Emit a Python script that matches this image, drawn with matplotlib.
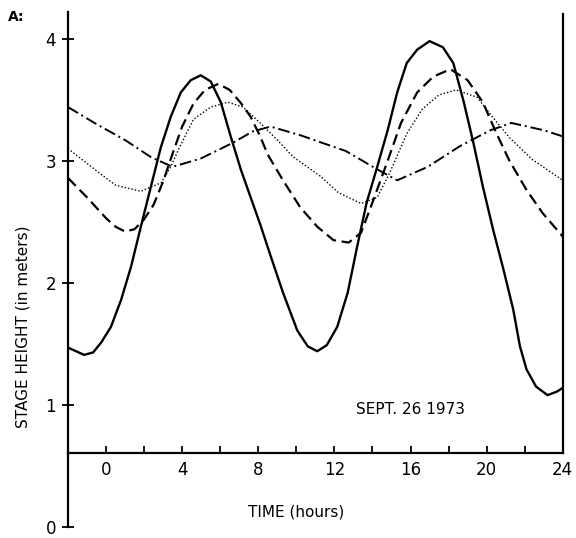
import numpy as np
import matplotlib.pyplot as plt

# odczyty z wykresu: (godzina, wysokosc w m)
t_ciagla = [-2, -1.15, -0.68, -0.26, 0.26, 0.79, 1.31, 1.83, 2.36, 2.88, 3.4, 3.93, 4.45, 4.98,
            5.5, 6.03, 6.55, 7.08, 7.6, 8.1, 8.65, 9.3, 10.05, 10.6, 11.1, 11.6, 12.15, 12.7,
            13.2, 13.7, 14.25, 14.8, 15.3, 15.8, 16.35, 17.0, 17.7, 18.25, 18.8, 19.3, 19.8,
            20.35, 20.9, 21.4, 21.75, 22.1, 22.6, 23.2, 23.7, 24]
ciagla = [1.47, 1.41, 1.43, 1.51, 1.64, 1.86, 2.13, 2.46, 2.79, 3.11, 3.36, 3.56, 3.66, 3.70,
          3.65, 3.48, 3.2, 2.93, 2.7, 2.48, 2.22, 1.92, 1.61, 1.48, 1.44, 1.49, 1.64, 1.92,
          2.3, 2.66, 2.95, 3.25, 3.56, 3.8, 3.91, 3.98, 3.93, 3.8, 3.48, 3.15, 2.79,
          2.43, 2.1, 1.78, 1.48, 1.29, 1.15, 1.08, 1.11, 1.14]

t_kreski = [-2, -1, 0, 0.5, 1.0, 1.5, 2.0, 2.5, 3.0, 3.5, 4.0, 4.6, 5.2, 5.9, 6.5, 7.1, 7.6,
            8.1, 8.5, 9.3, 10.2, 11.1, 11.95, 12.75, 13.4, 14.05, 14.8, 15.5, 16.35, 17.2,
            18.1, 19.0, 19.8, 20.5, 21.2, 22.1, 22.95, 24]
kreski = [2.86, 2.7, 2.53, 2.46, 2.42, 2.44, 2.52, 2.64, 2.83, 3.06, 3.28, 3.47, 3.58, 3.63,
          3.58, 3.47, 3.36, 3.2, 3.05, 2.84, 2.62, 2.46, 2.35, 2.33, 2.41, 2.68, 3.0, 3.31,
          3.56, 3.69, 3.75, 3.66, 3.48, 3.23, 3.0, 2.76, 2.57, 2.38]

t_kropki = [-2, -0.6, 0.5, 1.83, 2.9, 3.4, 3.8, 4.6, 5.5, 6.4, 7.2, 8.1, 9.0, 9.85, 10.75,
            11.3, 12.2, 13.4, 14.25, 14.9, 15.8, 16.6, 17.5, 18.4, 19.5, 20.2, 21.2, 22.4, 24]
kropki = [3.1, 2.93, 2.8, 2.75, 2.82, 2.95, 3.09, 3.34, 3.44, 3.48, 3.44, 3.31, 3.17, 3.03, 2.93,
          2.87, 2.74, 2.65, 2.7, 2.9, 3.22, 3.42, 3.54, 3.58, 3.52, 3.38, 3.19, 3.01, 2.84]

t_kreskakropka = [-2, -0.5, 1.0, 2.36, 3.5, 5.0, 6.7, 7.7, 8.65, 10.2, 11.3, 12.6, 14.25, 15.3,
                  16.9, 18.6, 20.2, 21.3, 23.0, 24]
kreskakropka = [3.44, 3.3, 3.17, 3.03, 2.95, 3.02, 3.15, 3.24, 3.28, 3.21, 3.15, 3.08, 2.93, 2.84,
                2.95, 3.12, 3.25, 3.31, 3.25, 3.2]

xt = [0, 4, 8, 12, 16, 20, 24]
yt = [0, 1, 2, 3, 4]

fig = plt.figure(figsize=(5.76, 5.38), dpi=100)
ax = fig.add_axes([0.118, 0.0204, 0.859, 0.9576])

ax.plot(t_ciagla, ciagla, color='black', lw=1.7, solid_joinstyle='round')
ax.plot(t_kreski, kreski, color='black', lw=1.6, dashes=(5, 2.5))
ax.plot(t_kropki, kropki, color='black', lw=1.0, dashes=(1, 1.5))
ax.plot(t_kreskakropka, kreskakropka, color='black', lw=1.4, dashes=(6, 2, 1, 2))

ax.set_xlim(-2, 24)
ax.set_ylim(0, 4.22)

ax.spines['top'].set_visible(False)
ax.spines['bottom'].set_position(('data', 0.61))
ax.spines['right'].set_bounds(0.61, 4.2)
for s in ['left', 'bottom', 'right']:
    ax.spines[s].set_linewidth(1.6)

ax.set_xticks(xt)
ax.set_xticks(range(-2, 24, 2), minor=True)
ax.set_yticks(yt)
ax.tick_params(axis='x', which='both', direction='in', length=5, width=1.3, labelsize=12, pad=6)
ax.tick_params(axis='y', direction='inout', length=9, width=1.3, labelsize=12, pad=4)

ax.text(10, 0.12, 'TIME (hours)', ha='center', va='center', fontsize=11)
ax.text(-4.35, 1.64, 'STAGE HEIGHT (in meters)', rotation=90, ha='center', va='center', fontsize=11)
ax.text(16, 0.96, 'SEPT. 26 1973', ha='center', va='center', fontsize=11)
fig.text(0.014, 0.968, 'A:', ha='left', va='center', fontsize=10, fontweight='bold')

plt.savefig('out.png')
